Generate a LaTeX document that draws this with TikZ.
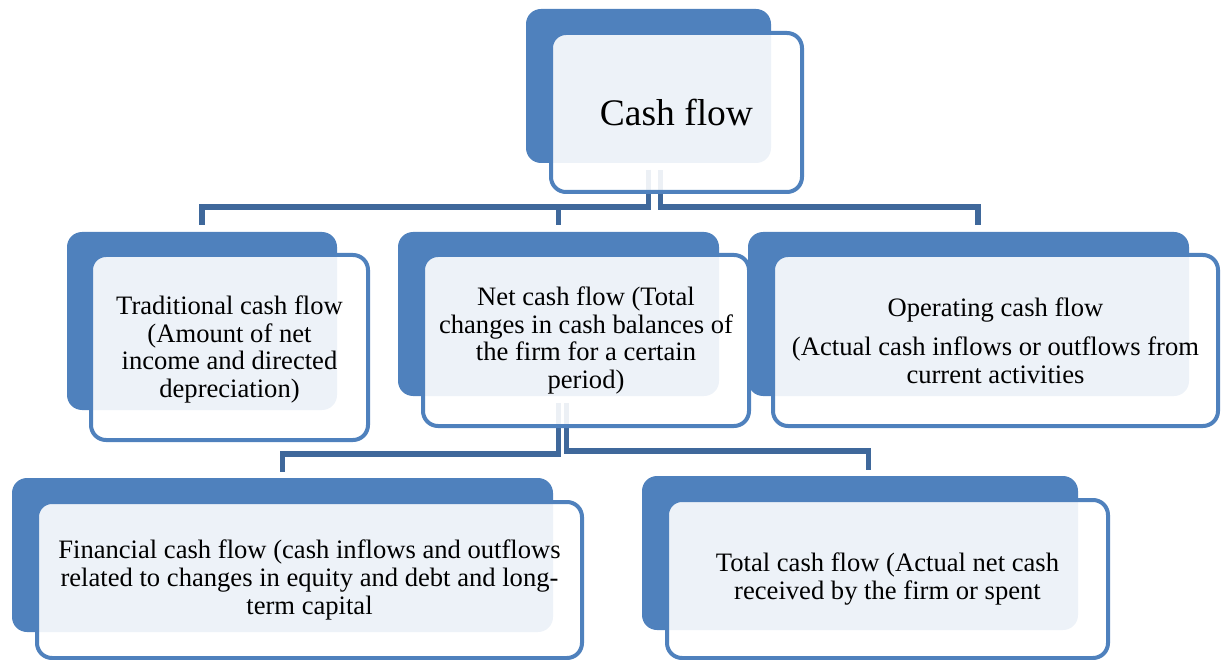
\documentclass[tikz,border=0pt]{standalone}
\usepackage{fontspec}
\setmainfont{Liberation Serif}
\definecolor{boxblue}{HTML}{4F81BD}
\definecolor{linkblue}{RGB}{63,104,155}
\tikzset{
  backbox/.style={fill=boxblue, draw=none, rounded corners=15pt, inner sep=0pt, outer sep=0pt},
  frontbox/.style={fill=white, fill opacity=0.9, draw=boxblue, draw opacity=1, line width=4pt,
                   rounded corners=15pt, inner sep=0pt, outer sep=0pt},
  boxtext/.style={align=center, font=\fontsize{26.6}{27.6}\selectfont, text=black, inner sep=0pt},
  conn/.style={draw=linkblue, line width=5.5pt},
}
\begin{document}
\begin{tikzpicture}[x=1pt,y=-1pt]
\useasboundingbox (0,0) rectangle (1223,660);

% solid back panels
\node[backbox, minimum width=245pt, minimum height=154pt] (cf-back)   at (648.5,86)  {};
\node[backbox, minimum width=270pt, minimum height=178pt] (trad-back) at (202,321)   {};
\node[backbox, minimum width=321pt, minimum height=164pt] (net-back)  at (558.5,314) {};
\node[backbox, minimum width=441pt, minimum height=164pt] (op-back)   at (968.5,314) {};
\node[backbox, minimum width=541pt, minimum height=154pt] (fin-back)  at (282.5,555) {};
\node[backbox, minimum width=436pt, minimum height=154pt] (tot-back)  at (860,553)   {};

% hierarchy connectors
\draw[conn] ([yshift=-7pt]cf-back.south) |- ([yshift=25pt]trad-back.north) -- ([yshift=7pt]trad-back.north);
\draw[conn] ([yshift=-7pt]cf-back.south) |- ([yshift=25pt]net-back.north) -- ([yshift=7pt]net-back.north);
\draw[conn] ([xshift=12pt,yshift=-7pt]cf-back.south) |- ([xshift=9.5pt,yshift=25pt]op-back.north)
            -- ([xshift=9.5pt,yshift=7pt]op-back.north);
\draw[conn] ([yshift=-7pt]net-back.south) |- ([yshift=24pt]fin-back.north) -- ([yshift=6pt]fin-back.north);
\draw[conn] ([xshift=8pt,yshift=-7pt]net-back.south) |- ([xshift=8.5pt,yshift=25pt]tot-back.north)
            -- ([xshift=8.5pt,yshift=6pt]tot-back.north);

% translucent front panels
\node[frontbox, minimum width=251pt, minimum height=159pt] (cf-front)   at (676.5,112.5) {};
\node[frontbox, minimum width=277pt, minimum height=185pt] (trad-front) at (229.5,347.5) {};
\node[frontbox, minimum width=326pt, minimum height=171pt] (net-front)  at (586,340.5)   {};
\node[frontbox, minimum width=445pt, minimum height=171pt] (op-front)   at (995.5,340.5) {};
\node[frontbox, minimum width=545pt, minimum height=156pt] (fin-front)  at (309.5,580)   {};
\node[frontbox, minimum width=441pt, minimum height=158pt] (tot-front)  at (887.5,579)   {};

% texts
\node[boxtext, font=\fontsize{37.5}{40}\selectfont] (cf-text) at (cf-front) {Cash flow};
\node[boxtext] (trad-text) at ([yshift=-2pt]trad-front.center) {Traditional cash flow\\(Amount of net\\income and directed\\depreciation)};
\node[boxtext] (net-text) at (net-front) {Net cash flow (Total\\changes in cash balances of\\the firm for a certain\\period)};
\node[boxtext] (op-text) at (op-front) {Operating cash flow\\[12pt](Actual cash inflows or outflows from\\current activities};
\node[boxtext] (fin-text) at (fin-front) {Financial cash flow (cash inflows and outflows\\related to changes in equity and debt and long-\\term capital};
\node[boxtext] (tot-text) at (tot-front) {Total cash flow (Actual net cash\\received by the firm or spent};
\end{tikzpicture}
\end{document}
